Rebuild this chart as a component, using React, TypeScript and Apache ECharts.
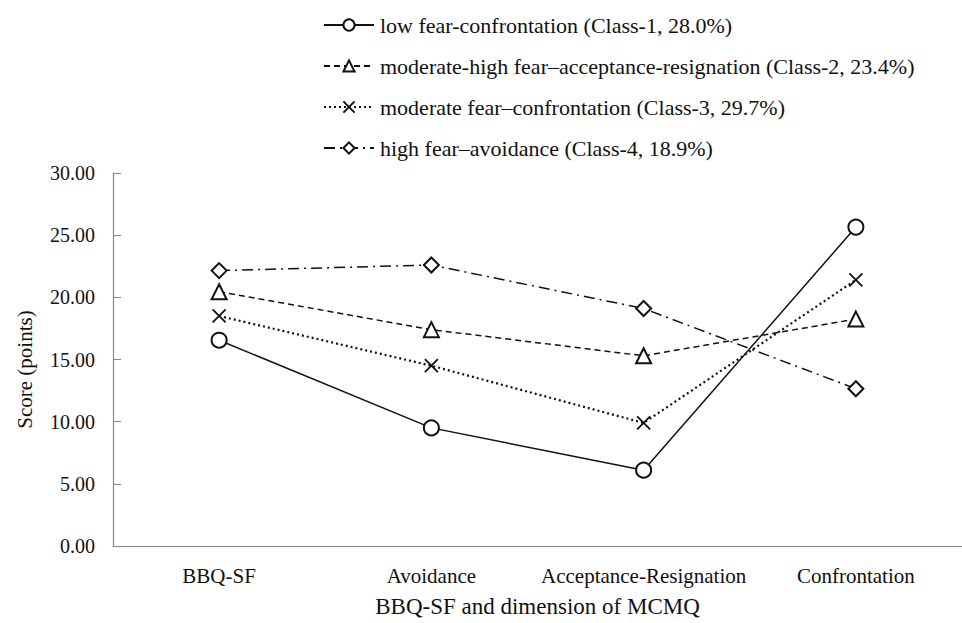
import React, { useEffect, useRef } from "react";
import * as echarts from "echarts";

const categories = ["BBQ-SF", "Avoidance", "Acceptance-Resignation", "Confrontation"];
const seriesNames = [
  "low fear-confrontation (Class-1, 28.0%)",
  "moderate-high fear\u2013acceptance-resignation (Class-2, 23.4%)",
  "moderate fear\u2013confrontation (Class-3, 29.7%)",
  "high fear\u2013avoidance (Class-4, 18.9%)",
];
const class1 = [16.55, 9.5, 6.1, 25.65];
const class2 = [20.45, 17.4, 15.3, 18.25];
const class3 = [18.5, 14.5, 9.9, 21.4];
const class4 = [22.15, 22.6, 19.1, 12.65];
const yTicks = { min: 0, max: 30, interval: 5 };

const FONT = "Liberation Serif";
const X_PATH = "path://M0,0L10,10M10,0L0,10";

export default function App() {
  const ref = useRef<HTMLDivElement>(null);
  useEffect(() => {
    if (!ref.current) return;
    const chart = echarts.init(ref.current, undefined, { renderer: "svg" });
    const mk = (
      name: string,
      data: number[],
      symbol: string,
      lineType: any,
      size: number,
      width: number,
      isPath = false
    ) => ({
      name,
      type: "line",
      data,
      symbol,
      symbolSize: size,
      symbolKeepAspect: true,
      showSymbol: true,
      lineStyle: { color: "#111", width, type: lineType },
      itemStyle: isPath
        ? { color: "#fff", borderColor: "#111", borderWidth: 1.8 }
        : { color: "#111", borderWidth: 1.8 },
      emphasis: { disabled: true },
      z: 3,
    });
    chart.setOption({
      animation: false,
      backgroundColor: "#fff",
      textStyle: { fontFamily: FONT, color: "#111" },
      legend: {
        orient: "vertical",
        left: 318,
        top: 9,
        itemWidth: 50,
        itemHeight: 14,
        itemGap: 19,
        textStyle: { fontFamily: FONT, fontSize: 22, color: "#111", padding: [0, 0, 0, 1] },
        data: seriesNames,
      },
      grid: { left: 113, right: 0, top: 173, bottom: 75, containLabel: false },
      xAxis: {
        type: "category",
        data: categories,
        boundaryGap: true,
        name: "BBQ-SF and dimension of MCMQ",
        nameLocation: "middle",
        nameGap: 49,
        nameTextStyle: { fontFamily: FONT, fontSize: 23, color: "#111" },
        axisLine: { lineStyle: { color: "#888", width: 1.2 } },
        axisTick: { alignWithLabel: true, length: 5, lineStyle: { color: "#888" } },
        axisLabel: { interval: 0, fontFamily: FONT, fontSize: 21, color: "#111", margin: 19 },
        splitLine: { show: false },
      },
      yAxis: {
        type: "value",
        min: yTicks.min,
        max: yTicks.max,
        interval: yTicks.interval,
        name: "Score (points)",
        nameLocation: "middle",
        nameGap: 78,
        nameTextStyle: { fontFamily: FONT, fontSize: 21, color: "#111", padding: [0, 20, 0, 0] },
        axisLine: { show: true, lineStyle: { color: "#888", width: 1.2 } },
        axisTick: { show: true, inside: true, length: 8, lineStyle: { color: "#888" } },
        axisLabel: {
          fontFamily: FONT,
          fontSize: 20,
          color: "#111",
          margin: 18,
          formatter: (v: number) => v.toFixed(2),
        },
        splitLine: { show: false },
      },
      series: [
        mk(seriesNames[0], class1, "emptyCircle", "solid", 15, 1.5),
        mk(seriesNames[1], class2, "emptyTriangle", [6, 4], 15, 1.5),
        mk(seriesNames[2], class3, X_PATH, [2, 3], 13, 2.2, true),
        mk(seriesNames[3], class4, "emptyDiamond", [11, 5, 2, 5], 15, 1.5),
      ],
    });
    return () => chart.dispose();
  }, []);
  return (
    <div
      ref={ref}
      style={{ position: "fixed", left: 0, top: 0, width: 962, height: 623 }}
    />
  );
}
